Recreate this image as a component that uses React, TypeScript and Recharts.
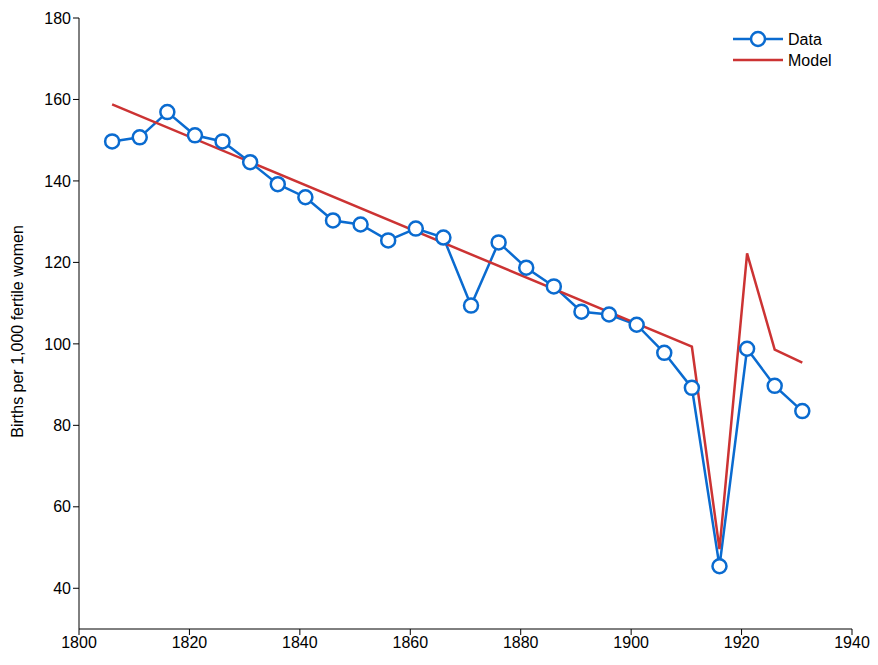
import React from 'react';
import { LineChart, Line, XAxis, YAxis } from 'recharts';

const years = [1806, 1811, 1816, 1821, 1826, 1831, 1836, 1841, 1846, 1851, 1856, 1861, 1866, 1871, 1876, 1881, 1886, 1891, 1896, 1901, 1906, 1911, 1916, 1921, 1926, 1931];
const dataValues = [149.7, 150.7, 156.9, 151.2, 149.7, 144.6, 139.2, 136.0, 130.3, 129.3, 125.4, 128.3, 126.1, 109.4, 124.9, 118.7, 114.1, 107.9, 107.2, 104.7, 97.8, 89.2, 45.4, 98.8, 89.7, 83.5];
const modelValues: (number | null)[] = [158.8, null, null, null, null, null, null, null, null, null, null, null, null, null, null, null, null, null, null, null, null, 99.3, 49.6, 122.2, 98.6, 95.4];
const xTicks = [1800, 1820, 1840, 1860, 1880, 1900, 1920, 1940];
const yTicks = [40, 60, 80, 100, 120, 140, 160, 180];
const seriesNames = ['Data', 'Model'];

const rows = years.map((y, i) => ({ year: y, data: dataValues[i], model: modelValues[i] }));

const BLUE = '#0A6BD0';
const RED = '#CC3333';
const FONT = '"Liberation Sans", Arial, Helvetica, sans-serif';

const LegendOverlay = () => (
  <svg width={140} height={50} style={{ position: 'absolute', left: 730, top: 29, overflow: 'visible' }}>
    <line x1={3} y1={10} x2={53} y2={10} stroke={BLUE} strokeWidth={2.5} />
    <circle cx={28} cy={10} r={7} fill="#fff" stroke={BLUE} strokeWidth={2.5} />
    <text x={58} y={10} dominantBaseline="central" fontSize={16} fontFamily={FONT} fill="#000">{seriesNames[0]}</text>
    <line x1={3} y1={31} x2={53} y2={31} stroke={RED} strokeWidth={2.5} />
    <text x={58} y={31} dominantBaseline="central" fontSize={16} fontFamily={FONT} fill="#000">{seriesNames[1]}</text>
  </svg>
);

export default function App() {
  return (
    <div style={{ position: 'absolute', left: 0, top: 0, width: 878, height: 665, background: '#fff' }}>
      <LineChart width={878} height={665} data={rows} margin={{ top: 18, right: 26, bottom: 0, left: 0 }}>
        <XAxis
          dataKey="year"
          type="number"
          domain={[1800, 1940]}
          ticks={xTicks}
          height={36}
          tickLine={{ stroke: '#000' }}
          axisLine={{ stroke: '#000' }}
          tickSize={6}
          tick={{ fill: '#000', fontSize: 16, fontFamily: FONT }}
        />
        <YAxis
          type="number"
          domain={[30, 180]}
          ticks={yTicks}
          width={79}
          tickLine={{ stroke: '#000' }}
          axisLine={{ stroke: '#000' }}
          tickSize={6}
          tick={{ fill: '#000', fontSize: 16, fontFamily: FONT }}
          label={{ value: 'Births per 1,000 fertile women', angle: -90, position: 'insideLeft', offset: 0, dx: 17, dy: 8, style: { textAnchor: 'middle', fill: '#000', fontSize: 16, fontFamily: FONT } }}
        />
        <Line dataKey="data" name={seriesNames[0]} stroke={BLUE} strokeWidth={2.5} dot={{ r: 7, fill: '#fff', stroke: BLUE, strokeWidth: 2.5 }} activeDot={false} isAnimationActive={false} />
        <Line dataKey="model" name={seriesNames[1]} stroke={RED} strokeWidth={2.5} dot={false} connectNulls activeDot={false} isAnimationActive={false} />
      </LineChart>
      <LegendOverlay />
    </div>
  );
}
